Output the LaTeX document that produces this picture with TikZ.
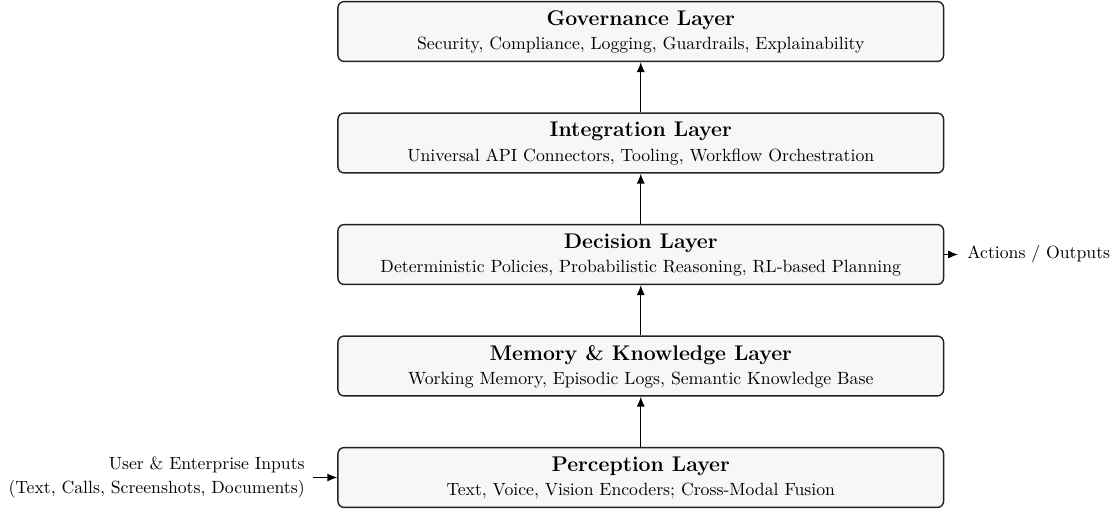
\documentclass[tikz,border=0pt]{standalone}
\usetikzlibrary{arrows.meta}
\definecolor{layerfill}{RGB}{247,247,247}
\definecolor{layerdraw}{RGB}{34,34,34}
\tikzset{
  layerbox/.style={draw=layerdraw, fill=layerfill, line width=0.8pt,
    rounded corners=3.5pt, minimum width=342.2pt, minimum height=33.8pt,
    inner sep=0pt},
  layertitle/.style={anchor=base, font=\large\bfseries, inner sep=0pt},
  layersub/.style={anchor=base, font=\normalsize, inner sep=0pt},
  flow/.style={-{Latex[length=5.6pt,width=4.6pt]}, line width=0.75pt},
  sidetext/.style={inner sep=0pt, font=\normalsize},
}
\begin{document}
\begin{tikzpicture}[x=0.565pt,y=-0.565pt]
\useasboundingbox (0,0) rectangle (1115,509);

% layer boxes, bottom to top
\node[layerbox] (per) at (640.75,477.5) {};
\node[layerbox] (mem) at (640.75,366.0) {};
\node[layerbox] (dec) at (640.75,254.5) {};
\node[layerbox] (int) at (640.75,143.0) {};
\node[layerbox] (gov) at (640.75,31.5) {};

% titles and descriptions
\node[layertitle] (govT) at (640.75,25.5) {Governance Layer};
\node[layersub]   (govS) at (640.75,49.5) {Security, Compliance, Logging, Guardrails, Explainability};

\node[layertitle] (intT) at (640.75,137.0) {Integration Layer};
\node[layersub]   (intS) at (640.75,161.0) {Universal API Connectors, Tooling, Workflow Orchestration};

\node[layertitle] (decT) at (640.75,248.5) {Decision Layer};
\node[layersub]   (decS) at (640.75,272.5) {Deterministic Policies, Probabilistic Reasoning, RL-based Planning};

\node[layertitle] (memT) at (640.75,360.0) {Memory \& Knowledge Layer};
\node[layersub]   (memS) at (640.75,384.0) {Working Memory, Episodic Logs, Semantic Knowledge Base};

\node[layertitle] (perT) at (640.75,471.5) {Perception Layer};
\node[layersub]   (perS) at (640.75,495.5) {Text, Voice, Vision Encoders; Cross-Modal Fusion};

% upward flow between layers
\draw[flow] (per.north) -- (mem.south);
\draw[flow] (mem.north) -- (dec.south);
\draw[flow] (dec.north) -- (int.south);
\draw[flow] (int.north) -- (gov.south);

% inputs
\node[sidetext, anchor=base east] (in1) at (305,469) {User \& Enterprise Inputs};
\node[sidetext, anchor=base east] (in2) at (305,493) {(Text, Calls, Screenshots, Documents)};
\coordinate (inTail) at (313,477.5);
\draw[flow] (inTail) -- (per.west);

% outputs
\node[sidetext, anchor=base west] (out) at (967,258) {Actions / Outputs};
\coordinate (outTip) at (958,254.5);
\draw[flow] (dec.east) -- (outTip);
\end{tikzpicture}
\end{document}
